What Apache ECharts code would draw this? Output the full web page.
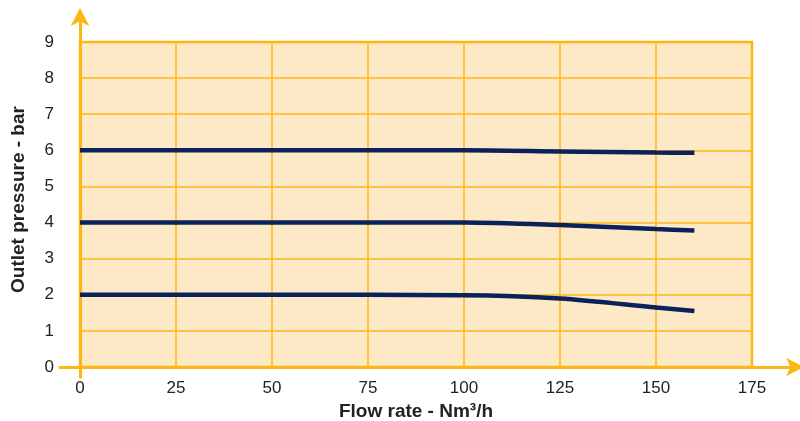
<!DOCTYPE html>
<html>
<head>
<meta charset="utf-8">
<script src="https://cdn.jsdelivr.net/npm/echarts@6/dist/echarts.min.js"></script>
<style>html,body{margin:0;padding:0;background:#fff}#c{width:800px;height:421px}</style>
</head>
<body>
<div id="c"></div>
<script>
var flow = [0, 50, 100, 125, 150, 160];
var p6 = [6, 6, 6, 5.97, 5.94, 5.93];
var p4 = [4, 4, 4, 3.93, 3.82, 3.78];
var p2 = [2, 2, 1.99, 1.90, 1.65, 1.55];
var xTicks = [0, 25, 50, 75, 100, 125, 150, 175];
var yTicks = [0, 1, 2, 3, 4, 5, 6, 7, 8, 9];
var xName = 'Flow rate - Nm³/h';
var yName = 'Outlet pressure - bar';

var ORANGE = '#FDB714';
var NAVY = '#0B2159';
var FONT = '"Liberation Sans Narrow", "Liberation Sans", Arial, sans-serif';

function pairs(ys) { return flow.map(function (x, i) { return [x, ys[i]]; }); }
function line(ys) {
  return { type: 'line', xAxisIndex: 0, yAxisIndex: 0, data: pairs(ys), symbol: 'none', smooth: 0.3,
    lineStyle: { color: NAVY, width: 4.5, cap: 'butt' }, silent: true };
}
var G = { containLabel: false, outerBoundsMode: 'none' };
function grid(o) { return Object.assign({}, G, o); }
var chart = echarts.init(document.getElementById('c'), null, { renderer: 'canvas' });
chart.setOption({
  animation: false,
  backgroundColor: '#fff',
  grid: [
    grid({ left: 80, right: 48, top: 42, bottom: 54, show: true, backgroundColor: '#FEE9C6', borderColor: ORANGE, borderWidth: 2.5 }),
    grid({ left: 60, right: 0, top: 42, bottom: 54 }),
    grid({ left: 80, right: 48, top: 12, bottom: 44 })
  ],
  xAxis: [
    { gridIndex: 0, type: 'value', min: xTicks[0], max: xTicks[xTicks.length - 1], interval: 25,
      axisLine: { show: false }, axisTick: { show: false },
      axisLabel: { color: '#222', fontSize: 17, fontFamily: FONT, margin: 13 },
      splitLine: { show: true, lineStyle: { color: ORANGE, width: 1.5 } },
      name: xName, nameLocation: 'middle', nameGap: 35,
      nameTextStyle: { color: '#222', fontSize: 19, fontWeight: 'bold', fontFamily: FONT } },
    { gridIndex: 1, type: 'value', min: 0, max: 1, show: true,
      axisLine: { show: true, onZero: false, symbol: ['none', 'arrow'], symbolSize: [14, 18], symbolOffset: [0, 4], lineStyle: { color: ORANGE, width: 3 } },
      axisTick: { show: false }, axisLabel: { show: false }, splitLine: { show: false } },
    { gridIndex: 2, type: 'value', min: 0, max: 1, show: false }
  ],
  yAxis: [
    { gridIndex: 0, type: 'value', min: yTicks[0], max: yTicks[yTicks.length - 1], interval: 1,
      axisLine: { show: false }, axisTick: { show: false },
      axisLabel: { color: '#222', fontSize: 17, fontFamily: FONT, margin: 26 },
      splitLine: { show: true, lineStyle: { color: ORANGE, width: 1.5 } },
      name: yName, nameLocation: 'middle', nameGap: 52, nameRotate: 90,
      nameTextStyle: { color: '#222', fontSize: 19, fontWeight: 'bold', fontFamily: FONT, padding: [0, 0, 0, 10] } },
    { gridIndex: 1, type: 'value', min: 0, max: 1, show: false },
    { gridIndex: 2, type: 'value', min: 0, max: 1, show: true,
      axisLine: { show: true, onZero: false, symbol: ['none', 'arrow'], symbolSize: [14, 18], symbolOffset: [0, 4], lineStyle: { color: ORANGE, width: 3 } },
      axisTick: { show: false }, axisLabel: { show: false }, splitLine: { show: false } }
  ],
  series: [line(p6), line(p4), line(p2)]
});
</script>
</body>
</html>
